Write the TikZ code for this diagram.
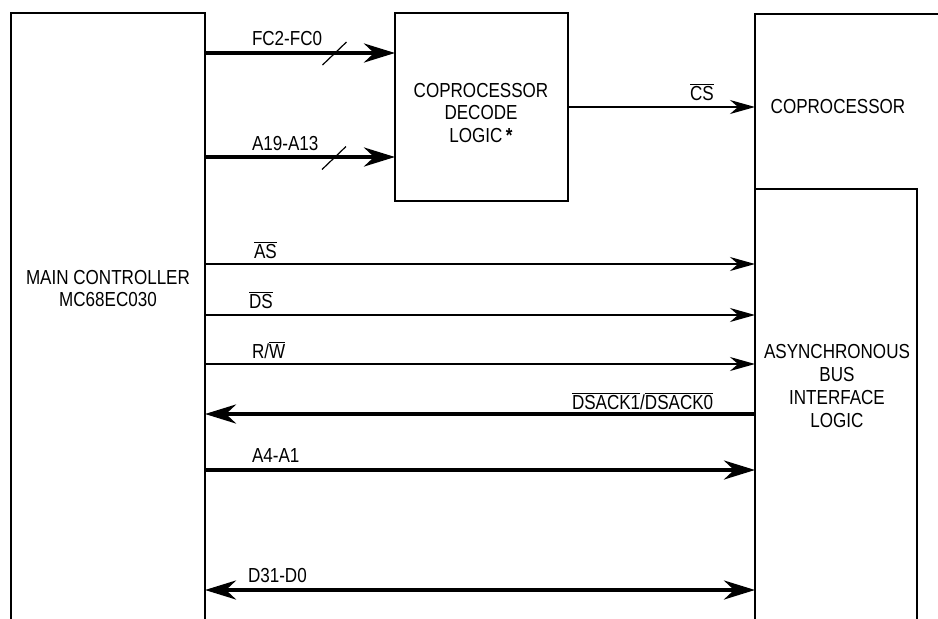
\documentclass[tikz,border=0pt]{standalone}
\usepackage{fontspec}
\setmainfont[FakeStretch=0.84]{Liberation Sans}
\usetikzlibrary{arrows.meta,calc}
\newcommand{\ovl}[1]{$\overline{\mbox{#1}}$}
\tikzset{
  bigtip/.tip={Stealth[length=31pt,width=19pt,inset=10pt]},
  smalltip/.tip={Stealth[length=25pt,width=14pt,inset=8pt]},
}
\begin{document}
\begin{tikzpicture}[x=1pt,y=-1pt,
  every node/.style={font=\fontsize{20.3}{22.7}\selectfont, inner sep=0pt, outer sep=0pt},
  area/.style n args={2}{draw=none, minimum width=#1pt, minimum height=#2pt},
  boxline/.style={line width=2.8pt, line join=miter},
  thinbox/.style={line width=1.6pt},
  bus/.style={line width=4pt},
  sig/.style={line width=1.4pt},
  slashmark/.style={line width=1.2pt},
  lbl/.style={anchor=base west},
  txt/.style={align=center}]
\useasboundingbox (0,0) rectangle (938,619);
\fill[white] (0,0) rectangle (938,619);

% areas
\node[area={194}{606}] (main) at (108,316) {};
\node[draw, boxline, minimum width=173pt, minimum height=188pt] (dec) at (481.5,107) {};
\node[area={183}{175}] (cop) at (846.5,101.5) {};
\node[area={162}{430}] (abil) at (836,404) {};

% outlines
\draw[boxline] (main.south west) -- (main.north west) -- (main.north east) -- (main.south east);
\draw[boxline] (cop.north east) -- (cop.north west) -- (cop.west |- main.south);
\draw[thinbox] (abil.north west) -- (abil.north east) -- (abil.south east);

% texts
\node[txt] (mainlbl) at (108,288.5) {MAIN CONTROLLER\\MC68EC030};
\node[txt] (declbl) at (481,113) {COPROCESSOR\\DECODE\\LOGIC\,\textbf{*}};
\node[txt] (coplbl) at (838,107) {COPROCESSOR};
\node[txt] (abillbl) at (837,386) {ASYNCHRONOUS\\BUS\\INTERFACE\\LOGIC};

% signal levels
\coordinate (yFC) at (0,53);
\coordinate (yA19) at (0,157);
\coordinate (yCS) at (0,107);
\coordinate (yAS) at (0,264);
\coordinate (yDS) at (0,315);
\coordinate (yRW) at (0,364);
\coordinate (yDK) at (0,414);
\coordinate (yA4) at (0,470);
\coordinate (yD) at (0,590);

% connectors
\draw[bus,-bigtip] (main.east |- yFC) -- (dec.west |- yFC);
\draw[bus,-bigtip] (main.east |- yA19) -- (dec.west |- yA19);
\draw[sig,-smalltip] (dec.east |- yCS) -- (cop.west |- yCS);
\draw[sig,-smalltip] (main.east |- yAS) -- (abil.west |- yAS);
\draw[sig,-smalltip] (main.east |- yDS) -- (abil.west |- yDS);
\draw[sig,-smalltip] (main.east |- yRW) -- (abil.west |- yRW);
\draw[bus,-bigtip] (abil.west |- yDK) -- (main.east |- yDK);
\draw[bus,-bigtip] (main.east |- yA4) -- (abil.west |- yA4);
\draw[bus,bigtip-bigtip] (main.east |- yD) -- (abil.west |- yD);

% bus width slashes
\coordinate (s1) at ($(main.east |- yFC)+(129.5,0.5)$);
\coordinate (s2) at ($(main.east |- yA19)+(129,1)$);
\draw[slashmark] ($(s1)+(-12,11.5)$) -- ($(s1)+(12,-11.5)$);
\draw[slashmark] ($(s2)+(-12,11.5)$) -- ($(s2)+(12,-11.5)$);

% labels
\node[lbl] (lFC) at (252,45) {FC2-FC0};
\node[lbl] (lA19) at (252,150) {A19-A13};
\node[lbl] (lCS) at (690,100) {\ovl{CS}};
\node[lbl] (lAS) at (254,258) {\ovl{AS}};
\node[lbl] (lDS) at (249,308) {\ovl{DS}};
\node[lbl] (lRW) at (252,358) {R/\ovl{W}};
\node[lbl] (lDK) at (572,409) {\ovl{DSACK1}/\ovl{DSACK0}};
\node[lbl] (lA4) at (252,462) {A4-A1};
\node[lbl] (lD) at (248,582) {D31-D0};
\end{tikzpicture}
\end{document}
